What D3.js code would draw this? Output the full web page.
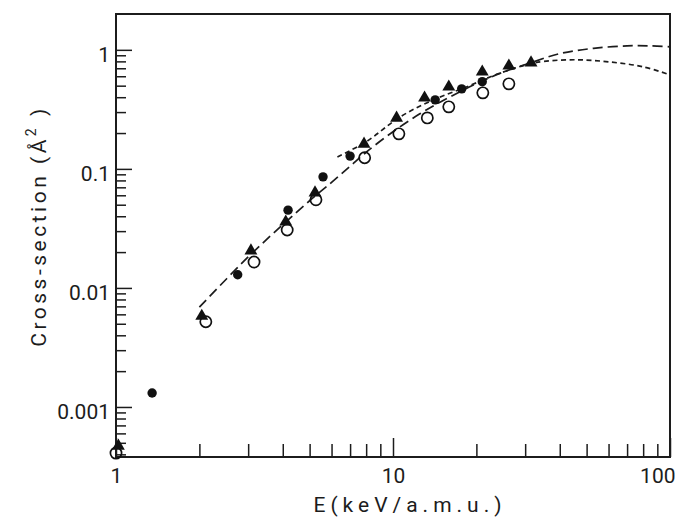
<!DOCTYPE html>
<html>
<head>
<meta charset="utf-8">
<script src="https://cdn.jsdelivr.net/npm/d3@7"></script>
<style>
  body { margin: 0; background: #fff; }
  svg text { font-family: Roboto, "DejaVu Sans", sans-serif; fill: #1c1c1c; }
</style>
</head>
<body>
<svg id="chart" width="685" height="528"></svg>
<script>
// measured points (E in keV/amu, cross-section in A^2)
const dotE = [1.35, 2.75, 4.18, 5.59, 7.0, 14.2, 17.7, 21.0];
const dotSigma = [0.00131, 0.0129, 0.045, 0.0857, 0.128, 0.38, 0.47, 0.54];

const ringE = [1.0, 2.11, 3.15, 4.15, 5.27, 7.9, 10.5, 13.3, 15.9, 21.1, 26.2];
const ringSigma = [0.00041, 0.0052, 0.0165, 0.0307, 0.055, 0.124, 0.197, 0.268, 0.332, 0.435, 0.518];

const triE = [1.02, 2.04, 3.07, 4.1, 5.23, 7.86, 10.3, 13.0, 15.9, 21.0, 26.2, 31.5];
const triSigma = [0.00047, 0.0058, 0.0205, 0.0359, 0.063, 0.162, 0.268, 0.395, 0.489, 0.653, 0.734, 0.778];

// theory curves
const longDashE = [2.0, 3.0, 4.0, 5.0, 6.0, 7.0, 8.0, 10.0, 12.5, 15, 20, 25, 31, 40, 53, 70, 85, 100];
const longDashSigma = [0.0069, 0.0182, 0.034, 0.054, 0.077, 0.105, 0.138, 0.205, 0.29, 0.37, 0.52, 0.65, 0.77, 0.93, 1.03, 1.08, 1.08, 1.06];

const shortDashE = [6.3, 8.0, 10.6, 14, 18.5, 24, 31, 35, 46, 61, 80, 100];
const shortDashSigma = [0.126, 0.169, 0.273, 0.38, 0.49, 0.63, 0.76, 0.8, 0.825, 0.79, 0.72, 0.617];

const xLabelTicks = [1, 10, 100];
const yLabelTicks = [0.001, 0.01, 0.1, 1];

const plotLeft = 116, plotRight = 670, plotTop = 14, plotBottom = 457;

const svg = d3.select("#chart");

const x = d3.scaleLog().domain([1, 100]).range([plotLeft, plotRight]);
const y = d3.scaleLog().domain([3.8e-4, 2.0]).range([plotBottom, plotTop]);

const xMinor = x.ticks().filter(v => !xLabelTicks.includes(v));
const yMinor = y.ticks().filter(v => !yLabelTicks.includes(v) && v < 2);

function tidy(g) {
  g.select(".domain").remove();
  g.attr("font-size", 21).attr("font-family", null);
  g.selectAll("line").attr("stroke", "#1c1c1c").attr("stroke-width", 1.5);
}

// minor ticks point inward
svg.append("g")
  .attr("transform", `translate(0,${plotBottom})`)
  .call(d3.axisBottom(x).tickValues(xMinor).tickSize(-13).tickFormat(""))
  .call(tidy);

const xAxis = svg.append("g")
  .attr("transform", `translate(0,${plotBottom})`)
  .call(d3.axisBottom(x).tickValues(xLabelTicks).tickSize(-19).tickPadding(11).tickFormat(d3.format("")))
  .call(tidy);
// last label sits flush against the right edge, as in the print
xAxis.selectAll("text").filter(d => d === 100)
  .attr("text-anchor", "end").attr("dx", 5);

svg.append("g")
  .attr("transform", `translate(${plotLeft},0)`)
  .call(d3.axisLeft(y).tickValues(yMinor).tickSize(-10).tickFormat(""))
  .call(tidy);

const yAxis = svg.append("g")
  .attr("transform", `translate(${plotLeft},0)`)
  .call(d3.axisLeft(y).tickValues(yLabelTicks).tickSize(-16).tickPadding(6).tickFormat(d => String(d)))
  .call(tidy);
yAxis.selectAll("text").attr("dy", "0.55em");

// frame
svg.append("rect")
  .attr("x", plotLeft).attr("y", plotTop)
  .attr("width", plotRight - plotLeft).attr("height", plotBottom - plotTop)
  .attr("fill", "none").attr("stroke", "#1c1c1c").attr("stroke-width", 2);

// curves
const line = d3.line()
  .x(d => x(d[0]))
  .y(d => y(d[1]))
  .curve(d3.curveCatmullRom.alpha(0.5));

svg.append("path")
  .datum(d3.zip(longDashE, longDashSigma))
  .attr("d", line)
  .attr("fill", "none").attr("stroke", "#1c1c1c").attr("stroke-width", 1.7)
  .attr("stroke-dasharray", "10,5");

svg.append("path")
  .datum(d3.zip(shortDashE, shortDashSigma))
  .attr("d", line)
  .attr("fill", "none").attr("stroke", "#1c1c1c").attr("stroke-width", 1.7)
  .attr("stroke-dasharray", "5,3.5");

// markers
svg.append("g").selectAll("circle")
  .data(d3.zip(ringE, ringSigma))
  .join("circle")
  .attr("cx", d => x(d[0])).attr("cy", d => y(d[1]))
  .attr("r", 5.6)
  .attr("fill", "none").attr("stroke", "#111").attr("stroke-width", 1.7);

svg.append("g").selectAll("circle")
  .data(d3.zip(dotE, dotSigma))
  .join("circle")
  .attr("cx", d => x(d[0])).attr("cy", d => y(d[1]))
  .attr("r", 4.7)
  .attr("fill", "#111");

svg.append("g").selectAll("path")
  .data(d3.zip(triE, triSigma))
  .join("path")
  .attr("transform", d => `translate(${x(d[0])},${y(d[1])})`)
  .attr("d", d3.symbol(d3.symbolTriangle).size(72))
  .attr("fill", "#111");

// axis titles
svg.append("text")
  .attr("x", 410)
  .attr("y", 512)
  .attr("text-anchor", "middle")
  .attr("font-size", 21)
  .style("letter-spacing", "5px")
  .text("E(keV/a.m.u.)");

const yTitle = svg.append("text")
  .attr("transform", "translate(46,226) rotate(-90)")
  .attr("text-anchor", "middle")
  .attr("font-size", 21)
  .style("letter-spacing", "3.5px");
yTitle.append("tspan").text("Cross-section (Å");
yTitle.append("tspan").attr("font-size", 14).attr("dy", -10).text("2");
yTitle.append("tspan").attr("dy", 10).text(" )");
</script>
</body>
</html>
